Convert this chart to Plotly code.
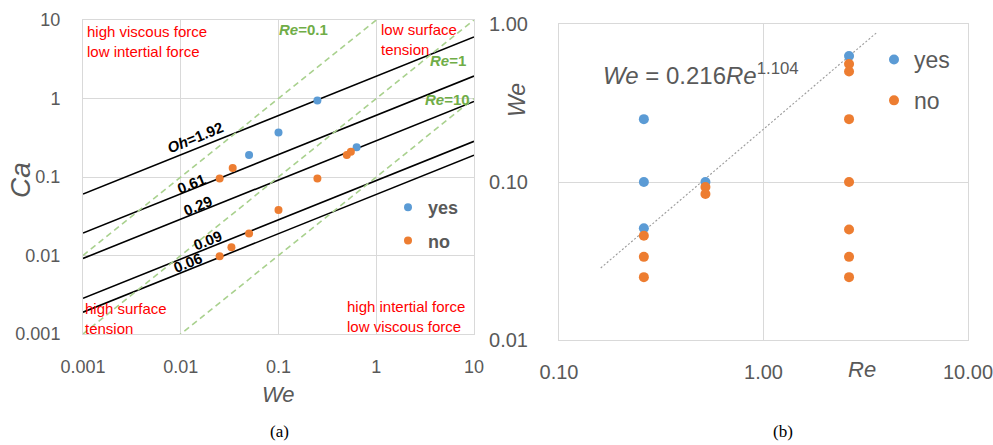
import numpy as np
import plotly.graph_objects as go

W, H = 993, 445

# ---------------- Panel (a): Ca vs We ----------------
we_yes_a = [0.05, 0.1, 0.25, 0.63]
ca_yes_a = [0.19, 0.37, 0.94, 0.24]
we_no_a = [0.025, 0.033, 0.05, 0.1, 0.25, 0.5, 0.55, 0.025, 0.034]
ca_no_a = [0.0098, 0.0127, 0.019, 0.038, 0.096, 0.19, 0.21, 0.096, 0.13]

oh_values = [1.92, 0.61, 0.29, 0.09, 0.06]
oh_labels = ["<i>Oh</i>=1.92", "0.61", "0.29", "0.09", "0.06"]
re_values = [0.1, 1, 10]
re_labels = ["<i>Re</i>=0.1", "<i>Re</i>=1", "<i>Re</i>=10"]
we_span = [0.001, 10]

ticks_a = [0.001, 0.01, 0.1, 1, 10]
ticktext_a = ["0.001", "0.01", "0.1", "1", "10"]

# ---------------- Panel (b): We vs Re ----------------
re_yes_b = [0.26, 0.26, 0.26, 0.52, 2.62]
we_yes_b = [0.25, 0.10, 0.051, 0.10, 0.627]
re_no_b = [0.26, 0.26, 0.26, 0.52, 0.52, 2.62, 2.62, 2.62, 2.62, 2.62, 2.62, 2.62]
we_no_b = [0.0457, 0.0336, 0.025, 0.093, 0.084, 0.558, 0.50, 0.25, 0.10, 0.05, 0.0336, 0.025]
fit_coef, fit_exp = 0.216, 1.104
fit_re_span = [0.16, 3.6]

ticksx_b = [0.1, 1, 10]
ticktextx_b = ["0.10", "1.00", "10.00"]
ticksy_b = [0.01, 0.1, 1]
ticktexty_b = ["0.01", "0.10", "1.00"]

BLUE = "#5b9bd5"
ORANGE = "#ed7d31"
GREEN = "#70ad47"
LGREEN = "#a9d18e"
GRID = "#d9d9d9"
TXT = "#595959"
FONT = "Liberation Sans"


def px(x):
    return x / W


def py(y):
    return 1 - y / H


fig = go.Figure()

# Oh lines: Ca = Oh * sqrt(We)
for oh in oh_values:
    we = np.array(we_span)
    fig.add_trace(go.Scatter(x=we, y=oh * np.sqrt(we), mode="lines",
                             line=dict(color="black", width=1.6),
                             showlegend=False, hoverinfo="skip",
                             xaxis="x", yaxis="y"))
# Re lines: Ca = We / Re
for re in re_values:
    we = np.array(we_span)
    fig.add_trace(go.Scatter(x=we, y=we / re, mode="lines",
                             line=dict(color=LGREEN, width=1.6, dash="6px,4px"),
                             showlegend=False, hoverinfo="skip",
                             xaxis="x", yaxis="y"))

fig.add_trace(go.Scatter(x=we_yes_a, y=ca_yes_a, mode="markers", name="yes",
                         marker=dict(color=BLUE, size=8), legend="legend",
                         legendgroup="a_yes", xaxis="x", yaxis="y"))
fig.add_trace(go.Scatter(x=we_no_a, y=ca_no_a, mode="markers", name="no",
                         marker=dict(color=ORANGE, size=8), legend="legend",
                         legendgroup="a_no", xaxis="x", yaxis="y"))

# Panel (b)
fit_re = np.array(fit_re_span)
fig.add_trace(go.Scatter(x=fit_re, y=fit_coef * fit_re ** fit_exp, mode="lines",
                         line=dict(color="#9a9a9a", width=1.1, dash="2px,2px"),
                         showlegend=False, hoverinfo="skip",
                         xaxis="x2", yaxis="y2"))
fig.add_trace(go.Scatter(x=re_yes_b, y=we_yes_b, mode="markers", name="yes",
                         marker=dict(color=BLUE, size=10), legend="legend2",
                         legendgroup="b_yes", xaxis="x2", yaxis="y2"))
fig.add_trace(go.Scatter(x=re_no_b, y=we_no_b, mode="markers", name="no",
                         marker=dict(color=ORANGE, size=10), legend="legend2",
                         legendgroup="b_no", xaxis="x2", yaxis="y2"))

axis_common = dict(type="log", showgrid=True, gridcolor=GRID, gridwidth=1,
                   showline=True, linecolor=GRID, linewidth=1, mirror=True,
                   zeroline=False, ticks="", fixedrange=True, automargin=False,
                   ticklabeloverflow="allow")

fig.update_layout(
    width=W, height=H,
    margin=dict(l=0, r=0, t=0, b=0, autoexpand=False),
    paper_bgcolor="white", plot_bgcolor="white",
    font=dict(family=FONT, color=TXT),
    xaxis=dict(axis_common, domain=[px(83), px(474)], range=[-3, 1],
               tickvals=ticks_a, ticktext=ticktext_a,
               tickfont=dict(size=18, color=TXT), ticklabelstandoff=16,
               anchor="y"),
    yaxis=dict(axis_common, domain=[py(334), py(20)], range=[-3, 1],
               tickvals=ticks_a, ticktext=ticktext_a,
               tickfont=dict(size=18, color=TXT), ticklabelstandoff=18,
               anchor="x"),
    xaxis2=dict(axis_common, domain=[px(559), px(968)], range=[-1, 1],
                tickvals=ticksx_b, ticktext=ticktextx_b,
                tickfont=dict(size=20, color=TXT), ticklabelstandoff=14,
                anchor="y2"),
    yaxis2=dict(axis_common, domain=[py(340), py(24)], range=[-2, 0],
                tickvals=ticksy_b, ticktext=ticktexty_b,
                tickfont=dict(size=20, color=TXT), ticklabelstandoff=26,
                anchor="x2"),
    legend=dict(x=px(388), y=py(189), xanchor="left", yanchor="top",
                bgcolor="rgba(0,0,0,0)", tracegroupgap=7,
                font=dict(size=18, color=TXT, family=FONT, weight="bold"),
                itemclick=False, itemdoubleclick=False),
    legend2=dict(x=px(874), y=py(38), xanchor="left", yanchor="top",
                 bgcolor="rgba(0,0,0,0)", tracegroupgap=8,
                 font=dict(size=23, color=TXT, family=FONT),
                 itemclick=False, itemdoubleclick=False),
)

ann = []
# Oh labels (in log data coords of panel a)
oh_label_pos = [(-1.854, -0.503), (-1.885, -1.089), (-1.824, -1.357),
                (-1.731, -1.803), (-1.926, -2.083)]
for lab, (lx, ly) in zip(oh_labels, oh_label_pos):
    ann.append(dict(x=lx, y=ly, xref="x", yref="y", text="<b>" + lab + "</b>",
                    showarrow=False, textangle=-22,
                    xanchor="center", yanchor="middle",
                    font=dict(size=15, color="black", family=FONT)))
re_label_pos = [(-0.749, 0.873), (0.734, 0.49), (0.724, -0.019)]
for lab, (lx, ly) in zip(re_labels, re_label_pos):
    ann.append(dict(x=lx, y=ly, xref="x", yref="y", text="<b>" + lab + "</b>",
                    showarrow=False, xanchor="center", yanchor="middle",
                    font=dict(size=15, color=GREEN, family=FONT)))

red = dict(size=15, color="#ff0000", family=FONT)
for text, x, y in [("high viscous force<br>low intertial force", 85, 21),
                   ("low surface<br>tension", 379, 19),
                   ("high surface<br>tension", 83, 298),
                   ("high intertial force<br>low viscous force", 345, 296)]:
    ann.append(dict(x=px(x), y=py(y), xref="paper", yref="paper", text=text,
                    xanchor="left", yanchor="top", align="left",
                    showarrow=False, font=red))


def centered(text, x, y, size, angle=0, color=TXT, family=FONT):
    return dict(x=px(x), y=py(y), xref="paper", yref="paper", text=text,
                xanchor="center", yanchor="middle", showarrow=False,
                textangle=angle, font=dict(size=size, color=color, family=family))


# axis titles
ann.append(centered("<i>Ca</i>", 20, 180, 28, -90))
ann.append(centered("<i>We</i>", 278, 394, 22))
ann.append(centered("<i>We</i>", 517, 100, 23, -90))
ann.append(centered("<i>Re</i>", 862, 369, 22))
# equation
ann.append(dict(x=px(601), y=py(74), xref="paper", yref="paper",
                text="<i>We</i> = 0.216<i>Re</i><sup>1.104</sup>",
                xanchor="left", yanchor="middle",
                showarrow=False, font=dict(size=24, color=TXT, family=FONT)))
# captions
ann.append(centered("(a)", 279, 431, 17, color="black", family="Liberation Serif"))
ann.append(centered("(b)", 783, 431, 17, color="black", family="Liberation Serif"))

fig.update_layout(annotations=ann)

fig.write_html("out.html")
